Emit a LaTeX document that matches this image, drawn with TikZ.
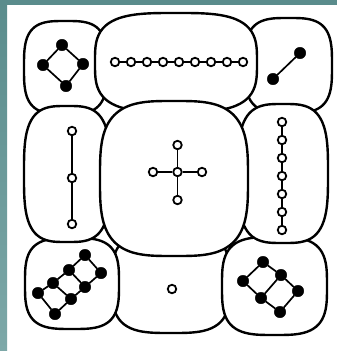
\documentclass[tikz,border=0pt]{standalone}
\definecolor{teal1}{HTML}{5A8C8C}
\definecolor{teal2}{HTML}{7DA8A8}
\tikzset{
  cellline/.style={draw=black, fill=white, line width=2.4pt, line join=round},
  blk/.style={circle, fill=black, draw=black, inner sep=0pt, minimum size=11.5pt},
  opn/.style={circle, fill=white, draw=black, line width=1.8pt, inner sep=0pt, minimum size=8.5pt},
  edge/.style={draw=black, line width=1.7pt}
}
% cell given by left, top, right, bottom
\newcommand\cellblob[4]{%
  \path[cellline] plot[variable=\t, domain=2.5:357.5, samples=72, smooth cycle]
    ({(#1+#3)/2 + (#3-#1)/2*sign(cos(\t))*(abs(cos(\t)))^(0.6)},
     {(#2+#4)/2 + (#4-#2)/2*sign(sin(\t))*(abs(sin(\t)))^(0.6)});}
\begin{document}
\begin{tikzpicture}[x=1pt, y=-1pt]
\useasboundingbox (0,0) rectangle (337,351);
\fill[white] (0,0) rectangle (337,351);
\shade[top color=teal1, bottom color=teal2] (0,0) rectangle (7,351);
\fill[teal1] (0,0) rectangle (337,5);
% cells
\cellblob{112}{232}{230}{333}  % bottom middle
\cellblob{24}{21}{107}{114}    % top left
\cellblob{245}{18}{332}{113}   % top right
\cellblob{25}{238}{119}{329}   % bottom left
\cellblob{222}{237}{327}{335}  % bottom right
\cellblob{95}{13}{257}{112}    % top middle
\cellblob{24}{106}{110}{242}   % middle left
\cellblob{238}{104}{328}{243}  % middle right
\cellblob{100}{101}{248}{256}  % centre
% top left: diamond
\node[blk] (tl1) at (62,45) {};
\node[blk] (tl2) at (43,65) {};
\node[blk] (tl3) at (83,64) {};
\node[blk] (tl4) at (66,86) {};
\draw[edge] (tl1) -- (tl2) -- (tl4) -- (tl3) -- (tl1);
% top middle: chain of 9
\foreach \i in {0,...,8} {\node[opn] (tm\i) at ({115+16*\i},62) {};}
\foreach \i [evaluate=\i as \j using int(\i+1)] in {0,...,7} {\draw[edge] (tm\i) -- (tm\j);}
% top right: two
\node[blk] (tr1) at (300,53) {};
\node[blk] (tr2) at (273,79) {};
\draw[edge] (tr1) -- (tr2);
% middle left: three
\node[opn] (ml1) at (72,131) {};
\node[opn] (ml2) at (72,178) {};
\node[opn] (ml3) at (72,224) {};
\draw[edge] (ml1) -- (ml2) -- (ml3);
% centre: cross
\node[opn] (c0) at (177.5,172) {};
\node[opn] (c1) at (177.5,145) {};
\node[opn] (c2) at (177.5,200) {};
\node[opn] (c3) at (153,172) {};
\node[opn] (c4) at (202,172) {};
\foreach \k in {1,...,4} {\draw[edge] (c0) -- (c\k);}
% middle right: chain of 7
\foreach \i in {0,...,6} {\node[opn] (mr\i) at (282,{122+18*\i}) {};}
\foreach \i [evaluate=\i as \j using int(\i+1)] in {0,...,5} {\draw[edge] (mr\i) -- (mr\j);}
% bottom left: ladder of three squares
\node[blk] (bla1) at (85,255) {};
\node[blk] (bla2) at (69,270) {};
\node[blk] (bla3) at (53,283) {};
\node[blk] (bla4) at (38,293) {};
\node[blk] (blb1) at (101,273) {};
\node[blk] (blb2) at (85,287) {};
\node[blk] (blb3) at (71,299) {};
\node[blk] (blb4) at (55,314) {};
\draw[edge] (bla1) -- (bla2) -- (bla3) -- (bla4);
\draw[edge] (blb1) -- (blb2) -- (blb3) -- (blb4);
\foreach \k in {1,...,4} {\draw[edge] (bla\k) -- (blb\k);}
% bottom middle: one
\node[opn] (bm) at (172,289) {};
% bottom right: two squares
\node[blk] (bra1) at (263,262) {};
\node[blk] (bra2) at (281,275) {};
\node[blk] (bra3) at (298,291) {};
\node[blk] (brb1) at (243,281) {};
\node[blk] (brb2) at (261,298) {};
\node[blk] (brb3) at (280,312) {};
\draw[edge] (bra1) -- (bra2) -- (bra3);
\draw[edge] (brb1) -- (brb2) -- (brb3);
\foreach \k in {1,...,3} {\draw[edge] (bra\k) -- (brb\k);}
\end{tikzpicture}
\end{document}
